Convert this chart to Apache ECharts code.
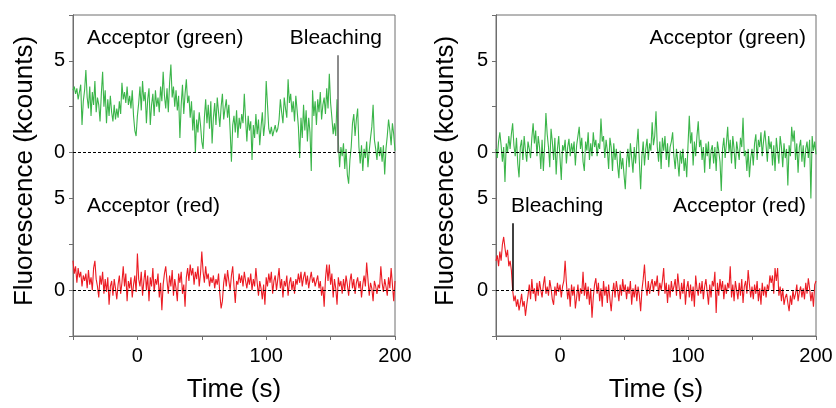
<!DOCTYPE html>
<html>
<head>
<meta charset="utf-8">
<script src="https://cdn.jsdelivr.net/npm/echarts@6/dist/echarts.min.js"></script>
<style>
html,body{margin:0;padding:0;background:#fff;}
#chart{width:836px;height:408px;}
</style>
</head>
<body>
<div id="chart"></div>
<script>
// ---- data (kcounts), one sample per second starting at t = -50 s ----
const timeStart = -50;
const timeStep = 1;

const leftGreen = [
  3.4, 3.6, 3.2, 3.5, 2.9, 3.3, 3.7, 1.5, 2.8, 3.4,
  4.5, 3.0, 2.4, 3.6, 2.0, 3.3, 2.6, 3.9, 2.2, 3.0,
  2.6, 1.7, 3.2, 4.4, 2.5, 3.4, 1.6, 2.9, 2.0, 3.1,
  2.2, 1.7, 2.6, 1.8, 2.4, 1.9, 2.8, 2.1, 3.8, 2.9,
  3.3, 2.7, 3.6, 2.6, 3.1, 2.4, 3.4, 2.0, 1.2, 0.9,
  2.0, 2.7, 3.6, 2.3, 3.9, 2.8, 3.3, 1.6, 2.9, 3.5,
  1.5, 2.6, 3.2, 2.0, 3.4, 2.5, 3.0, 2.2, 3.6, 2.8,
  4.4, 3.1, 2.4, 3.5, 2.2, 3.8, 4.8, 3.0, 3.6, 2.5,
  3.4, 2.3, 3.1, 0.8, 2.6, 3.7, 2.1, 3.2, 4.0, 2.7,
  3.1, 1.9, 2.8, 1.2, 2.3, 0.0, 1.8, 1.1, 2.2, 1.5,
  0.6, 0.2, 1.9, 2.9, 1.6, 2.6, 1.3, 2.8, 0.5, 1.9,
  2.7, 1.5, 3.0, 2.2, 1.4, 2.5, 3.2, 1.8, 2.4, 2.9,
  1.9, 2.6, 1.2, -0.5, 1.5, 2.0, 1.1, 2.3, 0.8, 1.9,
  1.3, 2.1, 1.6, 3.2, 1.8, 0.6, 2.0, 1.2, 1.7, -0.4,
  1.5, 0.8, 2.1, 1.0, 1.8, 0.4, 1.4, 2.2, 0.9, 1.6,
  3.9, 2.6, 1.3, 1.0, 1.4, 0.9, 1.2, 1.5, 1.1, 1.3,
  1.8, 2.9, 2.2, 1.6, 3.0, 2.4, 1.9, 4.0, 2.7, 3.2,
  2.2, 2.8, 1.7, 3.1, 2.3, 1.4, -0.3, 1.9, 0.8, 2.6,
  1.2, 2.3, 0.6, 1.9, 1.1, -1.0, 3.4, 2.0, 2.8, 1.5,
  2.9, 2.2, 3.3, 1.8, 2.6, 3.0, 2.1, 3.5, 2.4, 4.3,
  2.7, 1.9, 1.0, 1.6, 0.9, 2.9, 0.6, -0.8, 0.3, -0.2,
  0.5, -0.9, 0.2, -1.2, -1.7, -0.4, 0.3, 1.6, 2.1, 0.9,
  1.8, 2.4, 0.3, -0.6, 0.4, -1.0, 0.2, -0.3, 0.6, -0.8,
  0.1, 0.8, 1.4, 2.6, 0.7, 0.2, -0.4, 0.6, -0.2, 0.3,
  -0.5, 0.4, -1.2, 0.2, 0.9, 1.8, 1.2, 0.4, 1.6, 1.0,
  0.1
];

const leftRed = [
  1.6, 0.9, 1.3, 0.4, 1.2, 0.7, 1.0, 0.2, 0.8, 0.5,
  0.9, 0.1, 1.1, 0.3, 0.7, 0.0, 1.2, 1.6, 0.6, 0.2,
  -0.4, 0.8, 0.3, 1.0, -0.2, 0.6, -0.1, 0.7, -0.8, 0.2,
  0.5, -0.3, 0.6, 0.1, -0.5, 0.3, 0.8, -0.2, 0.4, 1.3,
  0.2, 0.9, -0.6, 0.5, 0.1, 0.7, -0.4, 0.3, 0.8, -0.1,
  2.0, 0.6, 0.2, 1.0, -0.3, 0.5, 1.1, 0.0, 0.8, -0.6,
  0.7, 0.2, 1.2, -0.1, 0.6, 0.3, 0.9, -0.4, 0.4, -1.1,
  0.3, 0.9, 1.3, 0.5, -0.2, 0.8, 0.2, 1.1, -0.3, 0.6,
  0.1, -0.6, 0.9, 0.4, 1.0, -0.2, 0.3, -0.9, 0.7, 1.2,
  0.5, 1.4, 0.8, 1.2, 0.3, 1.0, 0.6, 1.3, 0.2, 0.9,
  2.1, 1.0, 0.4, 1.3, 0.6, 0.9, 0.2, 0.7, 0.4, 0.8,
  0.1, 0.6, 0.3, 0.9, -0.2, -1.0, -0.6, 0.4, 0.9, 0.2,
  1.1, 0.5, 0.0, 0.8, 1.3, 0.2, -0.7, 0.5, 0.3, 0.9,
  0.4, 0.8, 0.2, 1.0, 0.5, 0.1, 0.7, 0.3, 0.9, 0.0,
  0.6, 0.2, 1.2, 0.4, -0.3, 0.5, 0.1, -0.5, 0.3, -0.8,
  0.7, 0.2, 0.9, 0.4, 1.0, -0.2, 0.5, 0.8, 0.0, 0.6,
  1.2, 0.1, 0.6, -0.4, 0.5, 0.2, 0.8, -0.3, 0.4, 0.7,
  0.0, 0.5, -0.2, 0.6, 0.3, 0.9, 0.4, 1.0, 0.2, 0.7,
  1.0, 0.3, 0.8, 0.1, 0.6, 1.0, 0.4, 0.7, 0.2, 0.5,
  0.8, 0.1, 0.5, -0.3, 0.2, -0.9, 0.6, 1.4, 0.5, 1.4,
  0.3, 0.9, -0.4, 0.6, 0.1, -0.8, 0.7, 0.2, 0.5, -0.2,
  0.6, 0.0, 0.8, 0.3, -0.3, 0.5, 0.9, 0.1, 0.6, -0.2,
  0.4, 0.7, 0.1, 0.5, -0.4, 0.3, 0.8, 0.2, 1.5, 0.6,
  -0.3, 0.4, 0.1, -0.6, 0.5, 0.2, -0.2, 0.3, 0.1, 1.3,
  0.4, -0.1, 0.6, 0.2, -0.3, 0.7, 0.1, 1.2, 0.3, -0.6,
  0.5
];

const rightGreen = [
  0.2, -0.3, 0.6, 1.1, 0.4, -0.5, 0.3, -1.6, 0.5, 0.0,
  0.9, 0.2, 1.0, 1.6, 0.4, -0.2, 0.8, -0.6, -1.35, 0.3,
  0.7, -0.4, 0.9, 0.1, -0.5, 0.6, 0.2, -0.3, 0.8, 1.6,
  0.5, 1.2, -0.2, 0.9, 0.3, -0.9, 0.7, -1.0, 0.4, 2.15,
  1.0, 0.3, -0.8, 1.3, 0.6, -0.4, 0.8, -1.2, 0.2, 0.9,
  -0.3, -1.5, 0.4, 0.1, 0.7, -0.6, 0.3, 0.75, -0.2, 0.5,
  0.0, 0.6, -0.7, 0.4, 0.9, 1.4, 0.2, 0.8, -0.5, -1.0,
  0.6, 0.1, 1.1, -0.4, 0.5, -0.2, 1.1, 0.3, 0.7, -0.2,
  0.5, 0.2, 1.85, 0.6, 0.9, -0.3, 0.7, 0.1, -0.9, 0.8,
  0.3, -1.0, 0.5, -0.4, 0.2, -0.7, -1.4, 0.1, -0.9, -0.3,
  -1.2, -2.0, -0.5, 0.2, -0.8, 0.5, -0.3, -1.1, 0.3, -0.6,
  0.4, 1.3, -0.5, -2.0, -0.2, 0.6, -0.7, 0.2, 0.75, -0.4,
  0.5, 0.1, 1.65, 0.4, 0.9, 2.25, 0.3, -0.5, 0.6, -0.9,
  0.8, 0.1, 0.9, -0.4, 0.5, -0.8, 0.3, 0.6, 1.1, -0.2,
  -0.9, 0.2, -0.5, -1.3, 0.1, -0.6, 0.2, -1.0, -0.3, -1.35,
  0.4, 2.0, 0.5, 1.1, -0.7, 0.6, -0.2, 0.9, 1.7, 0.3,
  0.7, -0.4, 0.3, -1.1, 0.5, -0.2, 0.6, -0.9, 0.1, 0.4,
  -0.6, 0.3, -1.0, 0.6, 0.1, -0.5, -2.1, 0.2, 0.8, -0.3,
  0.5, 1.4, 0.0, 0.7, -0.6, 0.9, 0.2, -0.9, 0.6, 0.1,
  -0.4, 0.8, 0.3, 1.9, -0.2, 0.1, -1.0, 0.2, -1.35, -0.3,
  0.2, -0.7, 0.5, 1.0, -0.4, 0.7, 0.3, 1.1, -0.2, 0.6,
  1.2, 0.4, -0.5, 0.9, 0.2, 0.6, -0.7, 0.4, -1.0, 0.8,
  0.1, -0.6, 0.9, 0.3, -0.8, 0.5, -0.3, 0.2, -1.8, 0.4,
  -0.2, 1.4, 0.6, 1.2, -0.4, 0.5, -1.1, 0.3, 0.7, -0.5,
  0.4, -0.8, 0.2, 0.6, -0.3, 0.7, -2.5, 0.9, 0.1, 0.6,
  -0.1
];

const rightRed = [
  1.6, 1.9, 1.3, 2.1, 1.6, 2.5, 2.9, 2.3, 1.8, 2.2,
  1.3, 1.6, 1.1, 0.0, -0.6, -0.3, -0.9, -0.5, -1.1, -0.7,
  -0.2, -0.9, -0.6, -1.4, -0.8, -0.3, 0.3, -0.5, 0.6, -0.2,
  0.1, -0.6, 0.4, -0.3, 0.5, 0.0, -0.4, 0.3, 0.75, -0.2,
  0.2, -0.3, 0.55, 0.1, -0.5, -0.8, 0.2, -0.3, 0.4, -0.1,
  0.3, -0.4, 0.2, 0.5, 1.6, 0.4, -0.5, 0.1, -0.9, 0.3,
  -0.3, 0.2, -1.0, -0.4, 0.3, -0.6, 0.1, -0.2, 1.0, -0.3,
  0.4, -0.5, 0.2, -0.8, 0.1, -1.5, -0.4, 0.3, 0.65, -0.2,
  0.4, -0.6, 0.1, -0.9, 0.5, -0.3, 0.2, -0.7, 0.3, -0.5,
  -1.15, -0.2, 0.4, -0.4, 0.5, 0.0, -0.6, 0.3, -0.3, 0.6,
  -0.1, 0.3, -0.5, 0.2, -0.2, 0.5, -0.8, 0.1, -0.4, 0.3,
  -0.6, 0.2, -0.3, -1.15, 0.0, 0.6, 1.4, 0.2, -0.3, 0.5,
  -0.2, 0.3, 0.6, -0.1, 0.5, 0.2, 0.8, -0.3, 0.4, 0.0,
  0.5, 1.2, -0.2, 0.4, -0.7, 0.3, -0.4, 0.5, -0.1, 0.2,
  0.6, -0.3, 0.9, 0.2, -0.5, 0.4, -0.2, 0.6, -0.8, 0.1,
  0.5, -0.4, 0.3, -0.6, 0.2, -0.9, 0.8, 0.1, -0.3, 0.4,
  -0.2, 0.5, -0.5, 0.2, 0.6, -0.1, -0.8, 0.3, -0.4, 0.5,
  0.2, 1.0, -1.25, 0.4, -0.3, 0.6, 0.0, 0.5, -0.5, 0.3,
  -0.2, 0.4, 0.1, 1.3, -0.4, 0.3, -0.6, 0.5, 0.0, -0.5,
  0.4, -0.3, 0.6, -0.7, 0.2, 0.5, -0.2, 1.1, 0.3, -0.4,
  0.2, -0.5, 0.3, -0.2, 0.5, -0.6, 0.1, -0.8, 0.4, -0.3,
  0.2, -0.4, 0.3, 0.0, 0.8, 0.4, 0.8, -0.2, 1.2, 0.5,
  1.2, -0.3, 0.2, -0.6, 0.1, -0.8, -0.4, -0.2, -0.7, -1.15,
  -0.3, -0.8, 0.0, -0.5, -0.2, 0.3, -0.6, -0.1, 0.2, -0.4,
  0.1, -0.5, 0.4, -0.2, 0.65, 0.1, -0.6, -0.1, -0.9, 0.3,
  0.5
];

// bleaching markers: [time (s), top value (kcounts)]
const leftBleach = [155.7, 5.3];   // on the green trace
const rightBleach = [-37.3, 3.65]; // on the red trace

// axes
const xMin = -50, xMax = 200, xInterval = 50;
const xLabelValues = [0, 100, 200];
const greenAxisRange = [-10, 7.5];
const redAxisRange = [-2.5, 15];
const yInterval = 2.5;
const yLabelValues = [0, 5];

const annotations = {
  left: { green: 'Acceptor (green)', red: 'Acceptor (red)', bleach: 'Bleaching' },
  right: { green: 'Acceptor (green)', red: 'Acceptor (red)', bleach: 'Bleaching' }
};
const yTitle = 'Fluorescence (kcounts)';
const xTitle = 'Time (s)';

// ---- build chart ----
const FONT = '"Liberation Sans", Arial, Helvetica, sans-serif';
const GREEN = '#3bb54a';
const RED = '#ec1c24';
const FRAME = '#6e6e6e';

function toXY(arr) {
  return arr.map((v, i) => [timeStart + i * timeStep, v]);
}

const grids = [
  { left: 73, top: 15, width: 322, height: 321 },
  { left: 496, top: 15, width: 320, height: 321 }
];

function xAxisFor(gi) {
  return {
    type: 'value', gridIndex: gi, min: xMin, max: xMax, interval: xInterval,
    position: 'bottom',
    axisLine: { show: true, onZero: false, lineStyle: { color: FRAME, width: 1 } },
    axisTick: { show: true, inside: false, length: 4, lineStyle: { color: FRAME } },
    splitLine: { show: false },
    axisLabel: {
      color: '#000', fontFamily: FONT, fontSize: 20, margin: 10,
      formatter: v => xLabelValues.includes(v) ? String(v) : ''
    },
    name: xTitle, nameLocation: 'middle', nameGap: 41,
    nameTextStyle: { color: '#000', fontFamily: FONT, fontSize: 26 }
  };
}

function yAxisFor(gi, range) {
  return {
    type: 'value', gridIndex: gi, min: range[0], max: range[1], interval: yInterval,
    position: 'left', offset: 0,
    axisLine: { show: true, onZero: false, lineStyle: { color: FRAME, width: 1 } },
    axisTick: { show: true, inside: false, length: 4, lineStyle: { color: FRAME } },
    splitLine: { show: false },
    axisLabel: {
      color: '#000', fontFamily: FONT, fontSize: 20, margin: 8,
      formatter: v => yLabelValues.includes(v) ? String(v) : ''
    }
  };
}

const zeroLine = {
  silent: true, symbol: 'none', animation: false,
  label: { show: false },
  lineStyle: { color: '#000', type: [3, 2], width: 1 },
  data: [{ yAxis: 0 }]
};

function traceSeries(data, xi, yi, color, bleach, bleachColor) {
  const ml = JSON.parse(JSON.stringify(zeroLine));
  if (bleach) {
    ml.data.push([
      { coord: [bleach[0], 0], lineStyle: { color: bleachColor, type: 'solid', width: 1.5 } },
      { coord: [bleach[0], bleach[1]] }
    ]);
  }
  return {
    type: 'line', xAxisIndex: xi, yAxisIndex: yi,
    data: toXY(data), showSymbol: false, symbol: 'none',
    clip: false, animation: false,
    lineStyle: { color: color, width: 1.1 },
    itemStyle: { color: color },
    markLine: ml
  };
}

function txt(x, y, s, align) {
  return {
    type: 'text', x: x, y: y, silent: true,
    style: { text: s, fill: '#000', font: '21px ' + FONT, textAlign: align, textVerticalAlign: 'middle' }
  };
}

const option = {
  animation: false,
  backgroundColor: '#fff',
  grid: grids.map(g => Object.assign({ show: true, borderColor: FRAME, borderWidth: 1, containLabel: false }, g)),
  xAxis: [xAxisFor(0), xAxisFor(1)],
  yAxis: [
    yAxisFor(0, greenAxisRange), yAxisFor(0, redAxisRange),
    yAxisFor(1, greenAxisRange), yAxisFor(1, redAxisRange)
  ],
  series: [
    traceSeries(leftGreen, 0, 0, GREEN, leftBleach, '#666'),
    traceSeries(leftRed, 0, 1, RED, null),
    traceSeries(rightGreen, 1, 2, GREEN, null),
    traceSeries(rightRed, 1, 3, RED, rightBleach, '#000')
  ],
  graphic: [
    txt(87, 38, annotations.left.green, 'left'),
    txt(382, 38, annotations.left.bleach, 'right'),
    txt(87, 206, annotations.left.red, 'left'),
    txt(806, 38, annotations.right.green, 'right'),
    txt(511, 206, annotations.right.bleach, 'left'),
    txt(806, 206, annotations.right.red, 'right'),
    { type: 'text', x: 25, y: 171, rotation: Math.PI / 2, silent: true,
      style: { text: yTitle, fill: '#000', font: '26px ' + FONT, textAlign: 'center', textVerticalAlign: 'middle' } },
    { type: 'text', x: 446, y: 171, rotation: Math.PI / 2, silent: true,
      style: { text: yTitle, fill: '#000', font: '26px ' + FONT, textAlign: 'center', textVerticalAlign: 'middle' } }
  ]
};

const chart = echarts.init(document.getElementById('chart'), null, { renderer: 'canvas' });
chart.setOption(option);
</script>
</body>
</html>
